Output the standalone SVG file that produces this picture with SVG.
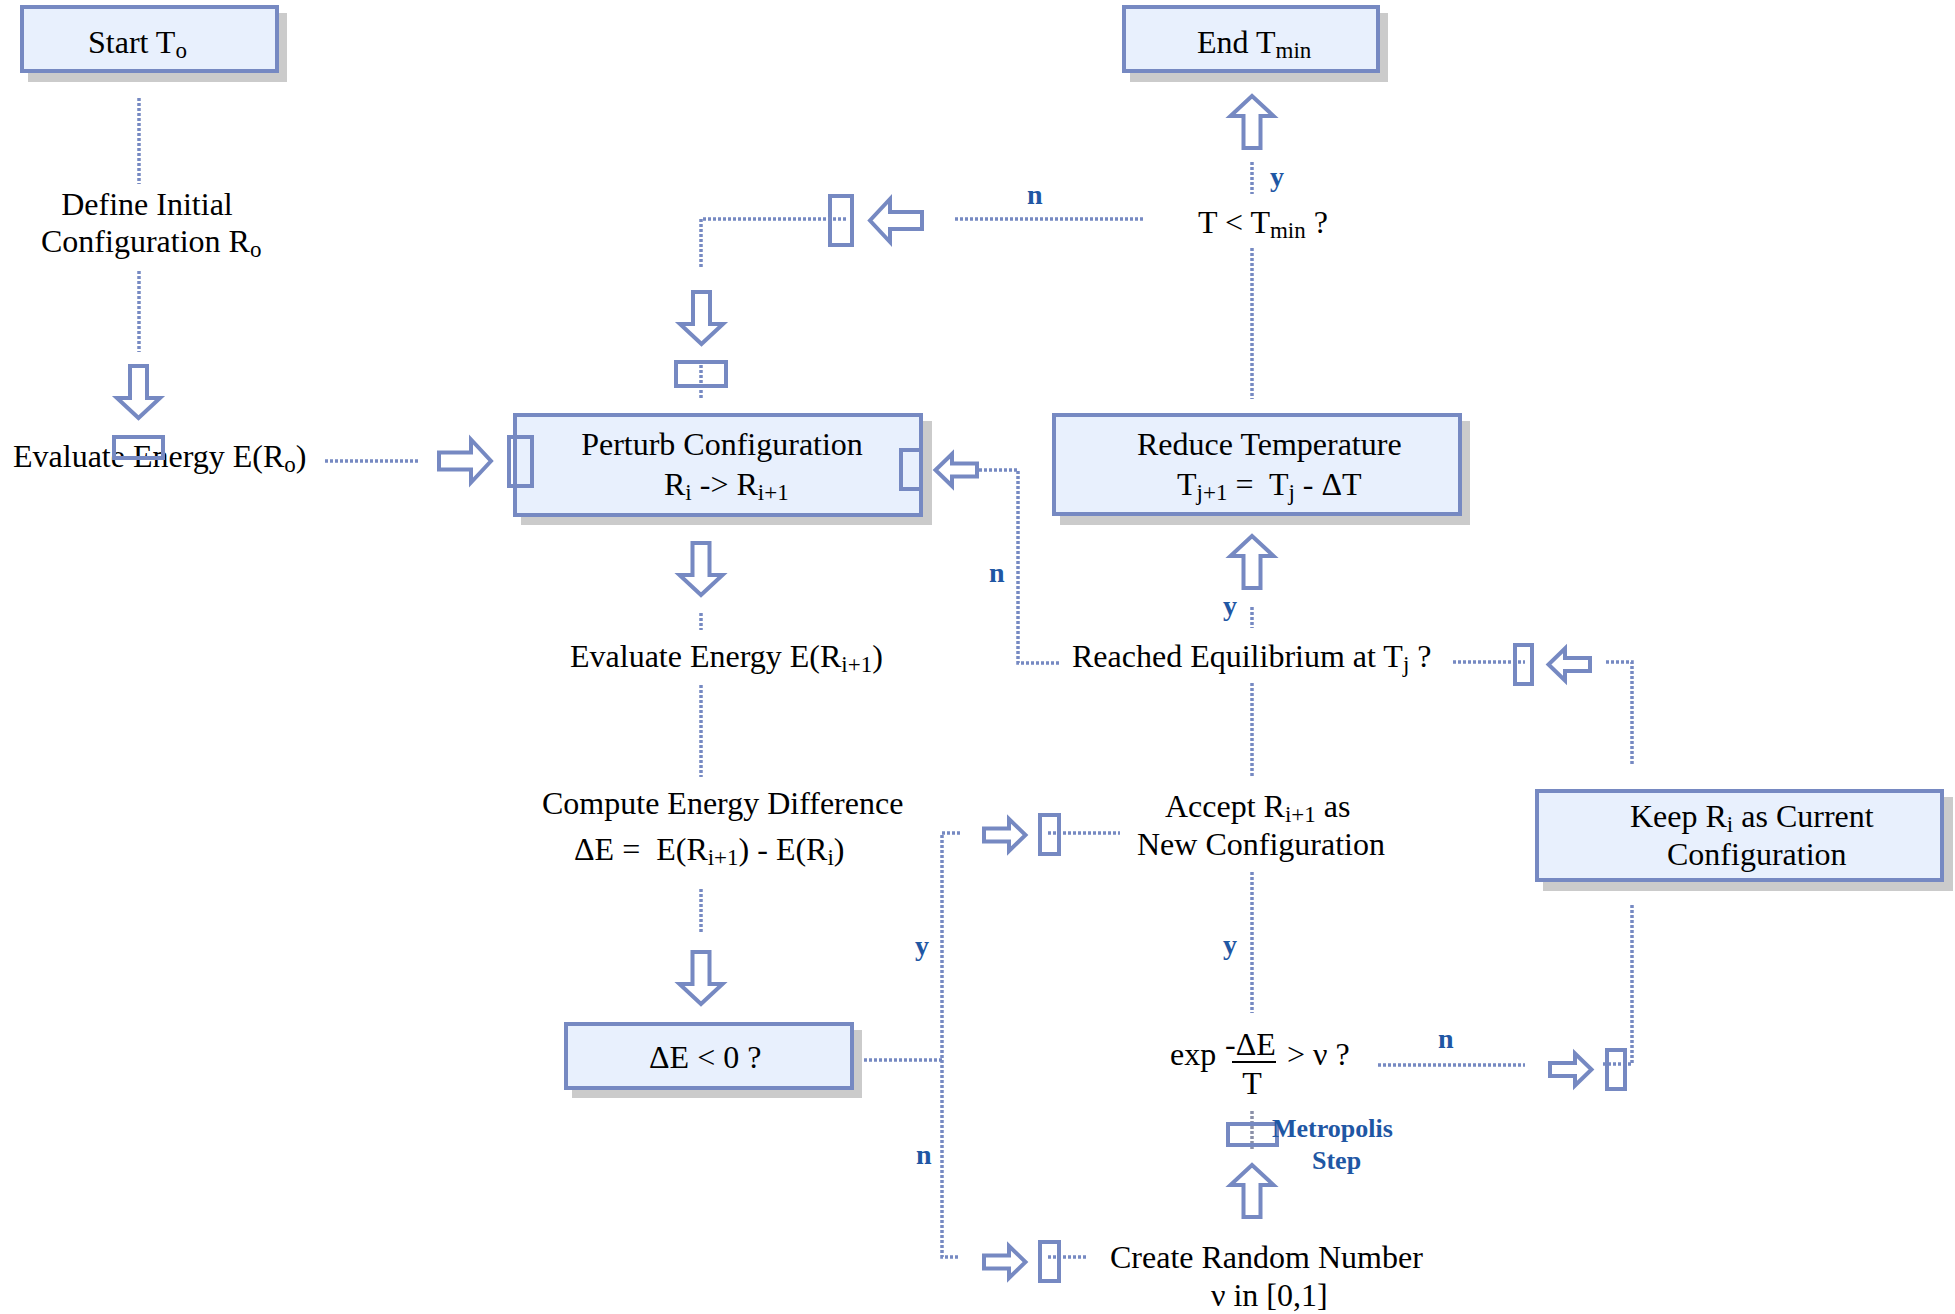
<svg xmlns="http://www.w3.org/2000/svg" width="1955" height="1314" viewBox="0 0 1955 1314">
<style>
text{font-family:"Liberation Serif","Times New Roman",serif;font-size:32px;fill:#000}
.sub{font-size:23px}
.lbl{font-weight:bold;font-size:28px;fill:#1F57A4}
.met{font-weight:bold;font-size:26px;fill:#1F57A4}
.box{fill:#E8F0FD;stroke:#7689C2;stroke-width:4}
.sh{fill:#CBCBCB}
.port{fill:none;stroke:#7689C2;stroke-width:4}
.dot{fill:none;stroke:#7689C2;stroke-width:3.5;stroke-dasharray:3 2}
.arr{fill:#fff;stroke:#7689C2;stroke-width:4;stroke-linejoin:miter}
</style>
<defs>
<path id="aL" d="M2,-8.5 H34 V-21.5 L54,0 L34,21.5 V8.5 H2 Z"/>
<path id="aS" d="M2,-6.5 H27 V-16 L43.5,0 L27,16 V6.5 H2 Z"/>
</defs>
<rect width="1955" height="1314" fill="#fff"/>

<g id="connectors">
<path class="dot" d="M139,98 V184"/>
<path class="dot" d="M139,271 V352"/>
<path class="dot" d="M325,461 H418"/>
<path class="dot" d="M846,219 H701 V269"/>
<path class="dot" d="M955,219 H1143"/>
<path class="dot" d="M701,365 V400"/>
<path class="dot" d="M1252,162 V194"/>
<path class="dot" d="M1252,248 V399"/>
<path class="dot" d="M979,470 H1018 V663 H1061"/>
<path class="dot" d="M701,613 V630"/>
<path class="dot" d="M701,685 V777"/>
<path class="dot" d="M701,889 V934"/>
<path class="dot" d="M864,1060 H942"/>
<path class="dot" d="M960,833 H942 V1257 H960"/>
<path class="dot" d="M1048,833 H1120"/>
<path class="dot" d="M1048,1257 H1088"/>
<path class="dot" d="M1252,607 V628"/>
<path class="dot" d="M1252,683 V777"/>
<path class="dot" d="M1252,872 V1013"/>
<path class="dot" d="M1252,1111 V1149" style="stroke:#8a90a8"/>
<path class="dot" d="M1378,1065 H1525"/>
<path class="dot" d="M1453,662 H1525"/>
<path class="dot" d="M1606,662 H1632 V766"/>
<path class="dot" d="M1632,905 V1064 H1603"/>

<use href="#aL" class="arr" transform="translate(138.5,364) rotate(90)"/>
<use href="#aL" class="arr" transform="translate(437,461)"/>
<use href="#aL" class="arr" transform="translate(701.5,290) rotate(90)"/>
<use href="#aL" class="arr" transform="translate(924,220.5) rotate(180)"/>
<use href="#aS" class="arr" transform="translate(979,470) rotate(180)"/>
<use href="#aL" class="arr" transform="translate(701,541) rotate(90)"/>
<use href="#aL" class="arr" transform="translate(701,950) rotate(90)"/>
<use href="#aL" class="arr" transform="translate(1252,150) rotate(-90)"/>
<use href="#aL" class="arr" transform="translate(1252,590) rotate(-90)"/>
<use href="#aS" class="arr" transform="translate(1592,664.5) rotate(180)"/>
<use href="#aS" class="arr" transform="translate(982,835)"/>
<use href="#aS" class="arr" transform="translate(982,1262)"/>
<use href="#aS" class="arr" transform="translate(1548,1069.5)"/>
<use href="#aL" class="arr" transform="translate(1252,1219) rotate(-90)"/>

<rect class="port" x="676" y="362" width="50" height="24"/>
<rect class="port" x="830" y="196" width="22" height="49"/>
<rect class="port" x="1515" y="645" width="17" height="39"/>
<rect class="port" x="1040" y="815" width="19" height="39"/>
<rect class="port" x="1040" y="1242" width="19" height="39"/>
<rect class="port" x="1607" y="1050" width="18" height="39"/>
<rect class="port" x="1228" y="1124" width="49" height="21"/>

<text class="lbl" x="1027" y="204">n</text>
<text class="lbl" x="1270" y="186">y</text>
<text class="lbl" x="989" y="582">n</text>
<text class="lbl" x="1223" y="615">y</text>
<text class="lbl" x="915" y="955">y</text>
<text class="lbl" x="916" y="1164">n</text>
<text class="lbl" x="1223" y="954">y</text>
<text class="lbl" x="1438" y="1048">n</text>
<text class="met" x="1272" y="1137">Metropolis</text>
<text class="met" x="1312" y="1169">Step</text>
</g>

<g id="start">
<rect class="sh" x="28" y="13" width="259" height="69"/>
<rect class="box" x="22" y="7" width="255" height="64"/>
<text x="88" y="53">Start T<tspan class="sub" dy="5">o</tspan></text>
</g>

<g id="end">
<rect class="sh" x="1130" y="13" width="258" height="69"/>
<rect class="box" x="1124" y="7" width="254" height="64"/>
<text x="1197" y="53">End T<tspan class="sub" dy="5">min</tspan></text>
</g>

<g id="define">
<text x="147" y="215" text-anchor="middle">Define Initial</text>
<text x="41" y="252">Configuration R<tspan class="sub" dy="5">o</tspan></text>
</g>

<g id="evaluate0">
<text x="13" y="467">Evaluate Energy E(R<tspan class="sub" dy="5">o</tspan><tspan dy="-5">)</tspan></text>
<rect class="port" x="114" y="437" width="49" height="21"/>
</g>

<g id="perturb">
<rect class="sh" x="521" y="421" width="411" height="104"/>
<rect class="box" x="515" y="415" width="406" height="100"/>
<text x="722" y="455" text-anchor="middle">Perturb Configuration</text>
<text x="664" y="495">R<tspan class="sub" dy="5">i</tspan><tspan dy="-5"> -&gt; R</tspan><tspan class="sub" dy="5">i+1</tspan></text>
<rect class="port" x="509" y="437" width="23" height="49"/>
<rect class="port" x="901" y="450" width="20" height="39"/>
</g>

<g id="tmin">
<text x="1198" y="233">T &lt; T<tspan class="sub" dy="5">min</tspan><tspan dy="-5"> ?</tspan></text>
</g>

<g id="reduce">
<rect class="sh" x="1060" y="421" width="410" height="104"/>
<rect class="box" x="1054" y="415" width="406" height="99"/>
<text x="1137" y="455">Reduce Temperature</text>
<text x="1177" y="495" xml:space="preserve">T<tspan class="sub" dy="5">j+1</tspan><tspan dy="-5"> =  T</tspan><tspan class="sub" dy="5">j</tspan><tspan dy="-5"> - ΔT</tspan></text>
</g>

<g id="evaluate1">
<text x="570" y="667">Evaluate Energy E(R<tspan class="sub" dy="5">i+1</tspan><tspan dy="-5">)</tspan></text>
</g>

<g id="equilibrium">
<text x="1072" y="667">Reached Equilibrium at T<tspan class="sub" dy="5">j</tspan><tspan dy="-5"> ?</tspan></text>
</g>

<g id="compute">
<text x="542" y="814">Compute Energy Difference</text>
<text x="574" y="860" xml:space="preserve">ΔE =  E(R<tspan class="sub" dy="5">i+1</tspan><tspan dy="-5">) - E(R</tspan><tspan class="sub" dy="5">i</tspan><tspan dy="-5">)</tspan></text>
</g>

<g id="accept">
<text x="1165" y="817">Accept R<tspan class="sub" dy="5">i+1</tspan><tspan dy="-5"> as</tspan></text>
<text x="1137" y="855">New Configuration</text>
</g>

<g id="keep">
<rect class="sh" x="1543" y="797" width="410" height="94"/>
<rect class="box" x="1537" y="791" width="405" height="89"/>
<text x="1630" y="827">Keep R<tspan class="sub" dy="5">i</tspan><tspan dy="-5"> as Current</tspan></text>
<text x="1667" y="865">Configuration</text>
</g>

<g id="deltaE">
<rect class="sh" x="572" y="1030" width="290" height="68"/>
<rect class="box" x="566" y="1024" width="286" height="64"/>
<text x="649" y="1068">ΔE &lt; 0 ?</text>
</g>

<g id="metropolis">
<text x="1170" y="1065">exp</text>
<text x="1225" y="1055">-ΔE</text>
<line x1="1232" y1="1062" x2="1276" y2="1062" stroke="#000" stroke-width="2"/>
<text x="1252" y="1094" text-anchor="middle">T</text>
<text x="1287" y="1065">&gt; ν ?</text>
</g>

<g id="random">
<text x="1110" y="1268">Create Random Number</text>
<text x="1211" y="1306">ν in [0,1]</text>
</g>
</svg>
